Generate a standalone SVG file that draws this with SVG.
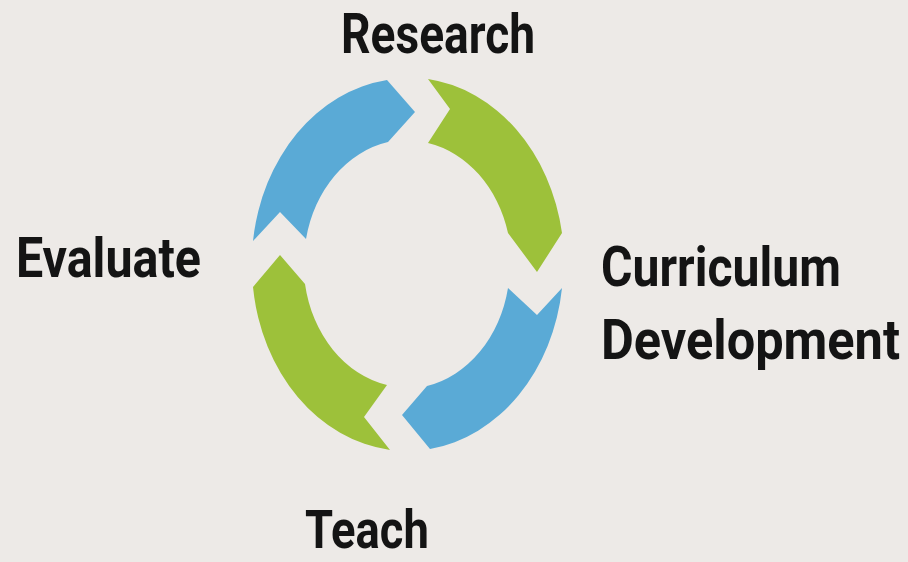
<svg xmlns="http://www.w3.org/2000/svg" width="908" height="562" viewBox="0 0 908 562">
  <style>
    .lbl { font-family: Roboto, "Open Sans", "Liberation Sans", sans-serif; font-weight: bold; font-size: 56px; fill: #141414; }
    .blue { fill: #5AAAD6; }
    .green { fill: #9DC13A; }
  </style>
  <rect x="0" y="0" width="908" height="562" fill="#EDEAE7"/>
  <g id="connectors">
    <path id="arrow-evaluate-research" class="blue" d="M 253,241 L 280,212 L 306,239 A 104 124 0 0 1 388,142 L 415,112 L 387,80 A 156 186 0 0 0 253,241 Z"/>
    <path id="arrow-research-curriculum" class="green" d="M 428,79 L 450,109 L 428,143 A 104 124 0 0 1 508,233 L 537,272 L 562,233 A 156 186 0 0 0 428,79 Z"/>
    <path id="arrow-curriculum-teach" class="blue" d="M 508,288 L 537,315 L 562,288 A 156 186 0 0 1 430,449 L 402,415 L 427,386 A 104 124 0 0 0 508,288 Z"/>
    <path id="arrow-teach-evaluate" class="green" d="M 387,385 L 364,417 L 390,450 A 156 186 0 0 1 253,287 L 280,255 L 305,284 A 104 124 0 0 0 387,385 Z"/>
  </g>
  <g id="node-research">
    <text class="lbl" transform="translate(341 52.5) scale(0.82 1)" x="0" y="0" textLength="236.6" lengthAdjust="spacingAndGlyphs">Research</text>
  </g>
  <g id="node-curriculum-development">
    <text class="lbl" transform="translate(601 285.5) scale(0.86 1)" x="0" y="0" textLength="279" lengthAdjust="spacingAndGlyphs">Curriculum</text>
    <text class="lbl" transform="translate(601 358.5) scale(0.88 1)" x="0" y="0" textLength="339.8" lengthAdjust="spacingAndGlyphs">Development</text>
  </g>
  <g id="node-teach">
    <text class="lbl" style="font-size:54px" transform="translate(305 548) scale(0.82 1)" x="0" y="0" textLength="151" lengthAdjust="spacingAndGlyphs">Teach</text>
  </g>
  <g id="node-evaluate">
    <text class="lbl" transform="translate(16 277) scale(0.86 1)" x="0" y="0" textLength="215" lengthAdjust="spacingAndGlyphs">Evaluate</text>
  </g>
</svg>
